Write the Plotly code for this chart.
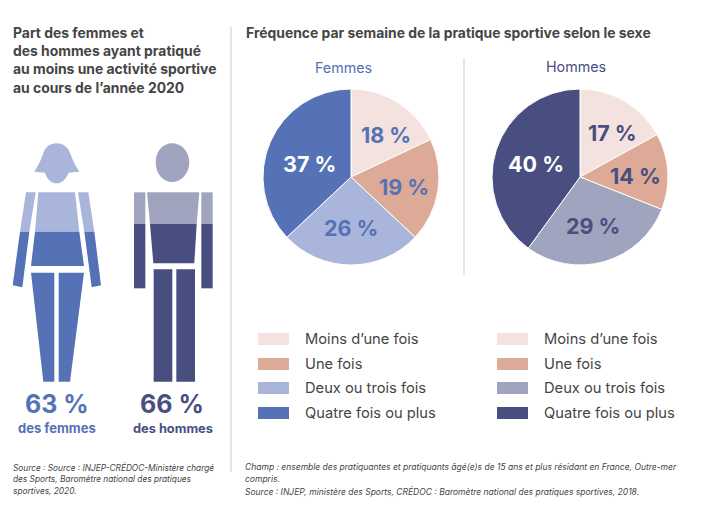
import plotly.graph_objects as go

categories = ["Moins d’une fois", "Une fois", "Deux ou trois fois", "Quatre fois ou plus"]
femmes = [18, 19, 26, 37]
hommes = [17, 14, 29, 40]
part_femmes = 63
part_hommes = 66

colors_f = ["#F3E2DE", "#DDAA98", "#A9B5DB", "#5472B5"]
colors_h = ["#F3E2DE", "#DDAA98", "#A0A4BE", "#484F80"]
text_f = ["#5472B5", "#5472B5", "#5472B5", "#FFFFFF"]
text_h = ["#484F80", "#484F80", "#484F80", "#FFFFFF"]

W, H = 701, 510
GREY = "#454545"
FONT = "Inter"

fig = go.Figure()


# pie placed by its centre and radius in pixels
def add_pie(values, colors, cx, cy, r):
    fig.add_trace(go.Pie(
        values=values, labels=categories, sort=False, direction="clockwise",
        rotation=0, marker=dict(colors=colors, line=dict(color="white", width=1)),
        textinfo="none", showlegend=False, hoverinfo="label+value",
        domain=dict(x=[(cx - r) / W, (cx + r) / W], y=[1 - (cy + r) / H, 1 - (cy - r) / H]),
    ))


add_pie(femmes, colors_f, 351, 177, 88)
add_pie(hommes, colors_h, 580, 177, 88)

shapes = []


def poly(points, color):
    path = "M" + " L".join(f"{x / 3} {y / 3 + 130}" for x, y in points) + " Z"
    shapes.append(dict(type="path", path=path, fillcolor=color, line=dict(width=0),
                       xref="x", yref="y"))


F_LIGHT, F_DARK = colors_f[2], colors_f[3]
H_LIGHT, H_DARK = colors_h[2], colors_h[3]

# femme
shapes.append(dict(type="path", xref="x", yref="y", fillcolor=F_LIGHT, line=dict(width=0),
                   path="M34.3 171.7 C38 166 41 160 43 154 C45 147 50 143.3 56.7 143.3 "
                        "C63 143.3 68 147 70.5 154 C72.5 160 75.5 166 79.3 171.7 L68.5 172.7 "
                        "C66 180 61 183.3 56.7 183.3 C52 183.3 47 180 45 172.7 Z"))
poly([(115, 187), (225, 187), (238, 305), (105, 305)], F_LIGHT)
poly([(105, 305), (238, 305), (252, 408), (93, 408)], F_DARK)
poly([(78, 187), (107, 187), (88, 305), (60, 305)], F_LIGHT)
poly([(60, 305), (88, 305), (67, 472), (38, 466)], F_DARK)
poly([(234, 187), (265, 187), (283, 305), (253, 305)], F_LIGHT)
poly([(253, 305), (283, 305), (303, 466), (275, 472)], F_DARK)
poly([(93, 428), (163, 428), (163, 755), (130, 755)], F_DARK)
poly([(176, 428), (252, 428), (210, 755), (176, 755)], F_DARK)

# homme
shapes.append(dict(type="path", xref="x", yref="y", fillcolor=H_LIGHT, line=dict(width=0),
                   path="M172.3 143.3 C181 143.3 189 151 189.3 162 C189.3 174 181 182 172.3 182 "
                        "C163 182 155.7 174 155.7 162 C155.7 151 163 143.3 172.3 143.3 Z"))
poly([(441, 187), (598, 187), (590, 282), (450, 282)], H_LIGHT)
poly([(450, 282), (590, 282), (583, 400), (460, 400)], H_DARK)
poly([(402, 187), (436, 187), (436, 282), (402, 282)], H_LIGHT)
poly([(402, 282), (436, 282), (436, 475), (402, 475)], H_DARK)
poly([(604, 187), (638, 187), (638, 282), (604, 282)], H_LIGHT)
poly([(604, 282), (638, 282), (638, 475), (604, 475)], H_DARK)
poly([(461, 418), (517, 418), (517, 755), (461, 755)], H_DARK)
poly([(529, 418), (585, 418), (585, 755), (529, 755)], H_DARK)

# separateurs
shapes.append(dict(type="line", x0=231, x1=231, y0=27, y1=472, xref="x", yref="y",
                   line=dict(color="#E9E5DB", width=2)))
shapes.append(dict(type="line", x0=464, x1=464, y0=58, y1=275, xref="x", yref="y",
                   line=dict(color="#E9E5DB", width=2)))

annotations = []


def label(x, y, text, size, color=GREY, anchor="left", italic=False, bold=False):
    if bold:
        text = f"<b>{text}</b>"
    if italic:
        text = f"<i>{text}</i>"
    # annotations sit 2px right of x because of their padding
    if anchor == "left":
        x -= 2
    annotations.append(dict(x=x, y=y, text=text, xref="x", yref="y", showarrow=False,
                            xanchor=anchor, yanchor="middle", align=anchor,
                            font=dict(size=size, color=color, family=FONT)))


# pourcentages dans les camemberts, places a la main comme sur l'original
pie_label_pos_f = [(386, 135), (404, 187), (351, 228), (309, 164)]
pie_label_pos_h = [(612, 133), (635, 176), (593, 226), (536, 164)]
for values, pos, colors in [(femmes, pie_label_pos_f, text_f), (hommes, pie_label_pos_h, text_h)]:
    for v, (x, y), color in zip(values, pos, colors):
        label(x, y, f"{v} %", 21.5, color, "center", bold=True)

# legendes
legend_y = [339, 364, 388, 413]
for swatch_x, text_x, colors in [(258, 305, colors_f), (497, 544, colors_h)]:
    for cat, color, y in zip(categories, colors, legend_y):
        shapes.append(dict(type="rect", x0=swatch_x, x1=swatch_x + 31, y0=y - 6, y1=y + 6,
                           xref="x", yref="y", fillcolor=color, line=dict(width=0)))
        label(text_x, y, cat, 14.7)

for i, line in enumerate(["Part des femmes et", "des hommes ayant pratiqué",
                          "au moins une activité sportive", "au cours de l’année 2020"]):
    label(13, 33 + i * 18.2, line, 13.9, bold=True)
label(246, 33, "Fréquence par semaine de la pratique sportive selon le sexe", 13.9, bold=True)
label(343, 67, "Femmes", 14.3, colors_f[3], "center")
label(576, 66, "Hommes", 14.3, colors_h[3], "center")

label(57, 404, f"{part_femmes} %", 25, colors_f[3], "center", bold=True)
label(172, 404, f"{part_hommes} %", 25, colors_h[3], "center", bold=True)
label(56.5, 428, "des femmes", 13, colors_f[3], "center", bold=True)
label(173, 428, "des hommes", 12.8, colors_h[3], "center", bold=True)

for i, line in enumerate(["Source : Source : INJEP-CRÉDOC-Ministère chargé",
                          "des Sports, Baromètre national des pratiques",
                          "sportives, 2020."]):
    label(13, 467 + i * 12, line, 8.3, italic=True)
for i, line in enumerate(["Champ : ensemble des pratiquantes et pratiquants âgé(e)s de 15 ans et plus résidant en France, Outre-mer",
                          "compris.",
                          "Source : INJEP, ministère des Sports, CRÉDOC : Baromètre national des pratiques sportives, 2018."]):
    label(245, 467 + i * 12, line, 8.5, italic=True)

fig.update_layout(
    width=W, height=H, autosize=False, margin=dict(l=0, r=0, t=0, b=0),
    paper_bgcolor="white", plot_bgcolor="white",
    xaxis=dict(range=[0, W], visible=False, fixedrange=True, domain=[0, 1]),
    yaxis=dict(range=[H, 0], visible=False, fixedrange=True, domain=[0, 1]),
    shapes=shapes, annotations=annotations, font=dict(family=FONT),
)
# axes need a trace to exist next to the pies
fig.add_trace(go.Scatter(x=[], y=[], showlegend=False))

# the page keeps an 8px body margin otherwise
fig.write_html("out.html", config=dict(displayModeBar=False),
               post_script="document.body.style.margin='0';")
